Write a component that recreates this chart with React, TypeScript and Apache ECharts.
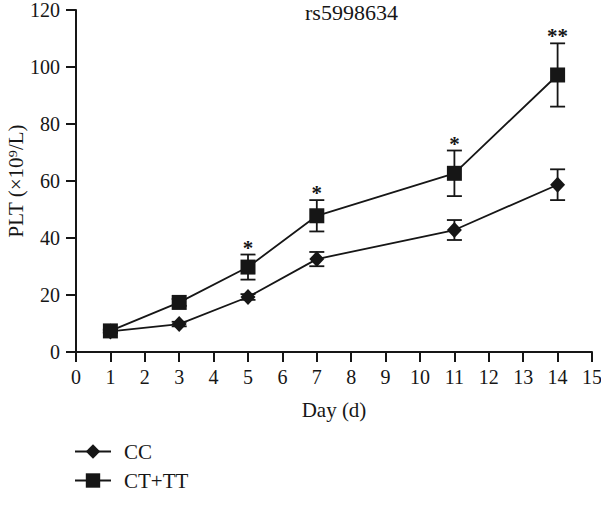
import React, { useEffect, useRef } from "react";
import * as echarts from "echarts";

const titleText = "rs5998634";
const days = [1, 3, 5, 7, 11, 14];
const ccMean = [7.2, 9.8, 19.3, 32.6, 42.8, 58.7];
const ccErr = [0.5, 0.8, 1.0, 2.5, 3.5, 5.4];
const ctMean = [7.4, 17.4, 29.8, 47.8, 62.7, 97.2];
const ctErr = [0.5, 1.2, 4.4, 5.5, 8.0, 11.1];
const sigMarks = ["", "", "*", "*", "*", "**"];
const seriesNames = ["CC", "CT+TT"];
const xTicks = { min: 0, max: 15, interval: 1 };
const yTicks = { min: 0, max: 120, interval: 20 };

const FONT = "'Liberation Serif', 'Times New Roman', serif";
const INK = "#161616";

function errorSeries(means: number[], errs: number[], marks: string[] | null) {
  return {
    type: "custom",
    z: 1,
    silent: true,
    data: days.map((d, i) => [d, means[i], errs[i]]),
    renderItem: (params: any, api: any) => {
      const x = api.value(0);
      const m = api.value(1);
      const e = api.value(2);
      const top = api.coord([x, m + e]);
      const bot = api.coord([x, m - e]);
      const hw = 7.5;
      const st = { stroke: INK, lineWidth: 1.8 };
      const children: any[] = [
        { type: "line", shape: { x1: top[0], y1: top[1], x2: bot[0], y2: bot[1] }, style: st },
        { type: "line", shape: { x1: top[0] - hw, y1: top[1], x2: top[0] + hw, y2: top[1] }, style: st },
        { type: "line", shape: { x1: bot[0] - hw, y1: bot[1], x2: bot[0] + hw, y2: bot[1] }, style: st },
      ];
      const mk = marks ? marks[params.dataIndex] : "";
      if (mk) {
        children.push({
          type: "text",
          style: {
            text: mk,
            x: top[0],
            y: top[1] - 7,
            textAlign: "center",
            textVerticalAlign: "middle",
            fontSize: 21,
            fontWeight: "bold",
            fontFamily: FONT,
            fill: INK,
          },
        });
      }
      return { type: "group", children };
    },
  };
}

export default function App() {
  const ref = useRef<HTMLDivElement>(null);
  useEffect(() => {
    if (!ref.current) return;
    document.body.style.margin = "0";
    const chart = echarts.init(ref.current, undefined, { renderer: "svg" });
    chart.setOption({
      animation: false,
      backgroundColor: "#ffffff",
      title: {
        text: titleText,
        left: 305,
        top: 1,
        padding: 0,
        textStyle: { fontFamily: FONT, fontSize: 22, fontWeight: "normal", color: INK },
      },
      legend: {
        orient: "vertical",
        left: 74,
        top: 441,
        itemWidth: 36,
        itemHeight: 18,
        itemGap: 8,
        padding: 0,
        data: seriesNames,
        textStyle: { fontFamily: FONT, fontSize: 21, color: INK, padding: [0, 0, 0, 8] },
      },
      grid: { left: 76, right: 9, top: 10, bottom: 156, containLabel: false, outerBoundsMode: "none" },
      xAxis: {
        type: "value",
        min: xTicks.min,
        max: xTicks.max,
        interval: xTicks.interval,
        name: "Day (d)",
        nameLocation: "middle",
        nameGap: 47,
        nameMoveOverlap: false,
        nameTextStyle: { fontFamily: FONT, fontSize: 21, color: INK },
        splitLine: { show: false },
        axisLine: { show: true, onZero: false, lineStyle: { color: INK, width: 2 } },
        axisTick: { show: true, inside: false, length: 10, lineStyle: { color: INK, width: 2 } },
        axisLabel: { margin: 15, fontFamily: FONT, fontSize: 20, color: INK, showMaxLabel: true, showMinLabel: true },
      },
      yAxis: {
        type: "value",
        min: yTicks.min,
        max: yTicks.max,
        interval: yTicks.interval,
        name: "PLT (×10⁹/L)",
        nameLocation: "middle",
        nameGap: 50,
        nameMoveOverlap: false,
        nameTextStyle: { fontFamily: FONT, fontSize: 21, color: INK },
        splitLine: { show: false },
        axisLine: { show: true, lineStyle: { color: INK, width: 2 } },
        axisTick: { show: true, inside: false, length: 10, lineStyle: { color: INK, width: 2 } },
        axisLabel: { margin: 16, fontFamily: FONT, fontSize: 20, color: INK },
      },
      series: [
        errorSeries(ccMean, ccErr, null),
        errorSeries(ctMean, ctErr, sigMarks),
        {
          name: seriesNames[0],
          type: "line",
          z: 3,
          data: days.map((d, i) => [d, ccMean[i]]),
          symbol: "diamond",
          symbolSize: [15, 16],
          lineStyle: { color: INK, width: 1.8 },
          itemStyle: { color: INK },
        },
        {
          name: seriesNames[1],
          type: "line",
          z: 4,
          data: days.map((d, i) => [d, ctMean[i]]),
          symbol: "rect",
          symbolSize: 15,
          lineStyle: { color: INK, width: 1.8 },
          itemStyle: { color: INK },
        },
      ],
    });
    return () => chart.dispose();
  }, []);
  return <div ref={ref} style={{ width: 601, height: 508 }} />;
}
